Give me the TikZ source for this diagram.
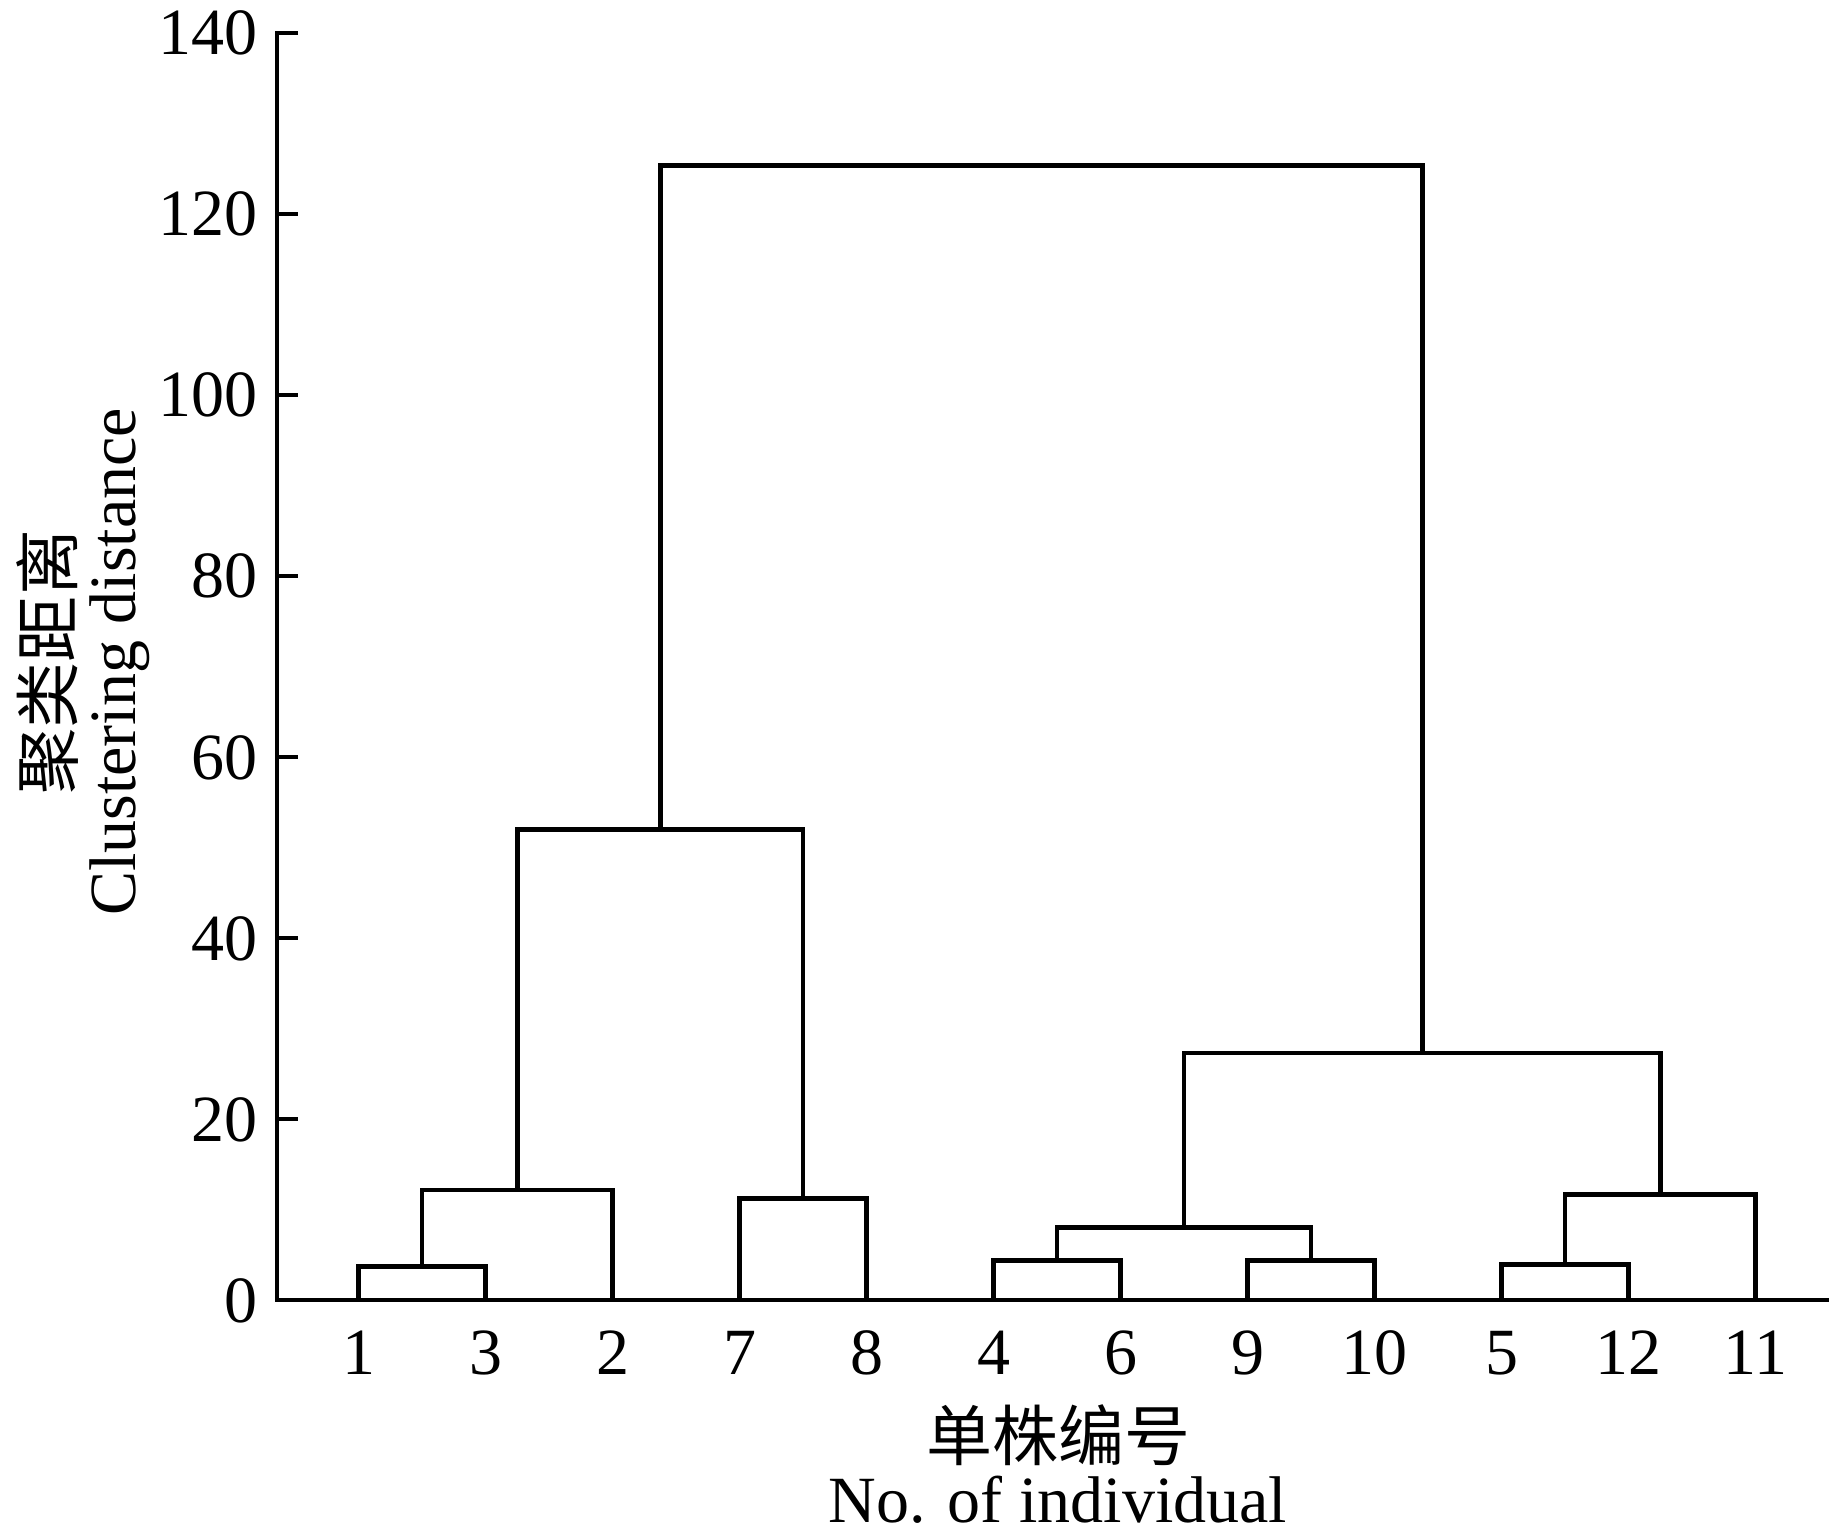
\documentclass[tikz,border=0pt]{standalone}
\usepackage{fontspec}
\setmainfont{Liberation Serif}
\newfontfamily\cjk{Noto Sans CJK SC}
\usepackage{tikz}
\usetikzlibrary{calc}

\begin{document}
\begin{tikzpicture}[font=\fontsize{66}{79}\selectfont, line width=4.8pt]
\useasboundingbox (-277pt,-235pt) rectangle (1566pt,1300pt);
\begin{scope}[x=1pt, y=9.05pt]
    % Axes.
    \coordinate (origin) at (0,0);
    \coordinate (ytop) at (0,140);
    \coordinate (xend) at (1552,0);
    \draw ([xshift=21pt]ytop) -- (ytop) -- (origin) -- (xend);
    \foreach \v in {0,20,...,120}{
        \draw (0,\v) -- ++(21pt,0);
    }
    \foreach \v in {0,20,...,140}{
        \node[anchor=base east, inner sep=0pt, xshift=-17pt, yshift=-22pt] (y\v) at (0,\v) {\v};
    }
    % Leaves in dendrogram order.
    \foreach \lab [count=\i] in {1,3,2,7,8,4,6,9,10,5,12,11}{
        \coordinate (l\lab) at ({81.5+127*(\i-1)},0);
        \node[anchor=base, inner sep=0pt, yshift=-74pt] (t\lab) at (l\lab) {\lab};
    }
    % Merge points (centre, clustering distance).
    \coordinate (m13) at (145,3.7);
    \coordinate (m132) at (240.25,12.15);
    \coordinate (m78) at (526,11.2);
    \coordinate (mleft) at (383.1,52.0);
    \coordinate (m46) at (780,4.4);
    \coordinate (m910) at (1034,4.4);
    \coordinate (m4610) at (907,8.0);
    \coordinate (m512) at (1288,3.9);
    \coordinate (m511) at (1383.25,11.7);
    \coordinate (mright) at (1145.1,27.3);
    \coordinate (mroot) at (764.1,125.4);
    % Links.
    \draw (l1) |- (m13) -| (l3);
    \draw (m13) |- (m132) -| (l2);
    \draw (l7) |- (m78) -| (l8);
    \draw (m132) |- (mleft) -| (m78);
    \draw (l4) |- (m46) -| (l6);
    \draw (l9) |- (m910) -| (l10);
    \draw (m46) |- (m4610) -| (m910);
    \draw (l5) |- (m512) -| (l12);
    \draw (m512) |- (m511) -| (l11);
    \draw (m4610) |- (mright) -| (m511);
    \draw (mleft) |- (mroot) -| (mright);
\end{scope}
% Axis titles.
\node[anchor=base, inner sep=0pt] (xcn) at (781pt,-160pt) {\cjk 单株编号};
\node[anchor=base, inner sep=0pt] (xen) at (781pt,-222pt) {No. of individual};
\node[anchor=base, inner sep=0pt, rotate=90] (ycn) at (-204pt,638pt) {\cjk 聚类距离};
\node[anchor=base, inner sep=0pt, rotate=90] (yen) at (-141pt,638pt) {Clustering distance};
\end{tikzpicture}
\end{document}
